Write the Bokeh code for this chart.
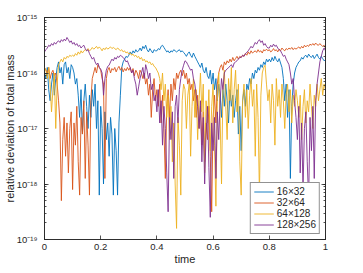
import numpy as np
from bokeh.plotting import figure
from bokeh.models import (LinearAxis, LogAxis, FixedTicker, LogTicker,
                          CustomJSTickFormatter, Legend)
from bokeh.embed import file_html
from bokeh.resources import INLINE

# ---------------- data (log10 of relative deviation) ----------------
TIME_STEP = 0.005
N_POINTS = 201

LOG_16x32 = [
    -16.0, -16.1, -15.9, -16.3, -16.5, -16.2, -16.0, -16.4, -16.1, -15.9, -15.8, -16.0, -15.9, -16.2, -15.85, -15.8, -16.0, -15.9, -16.1, -15.85,
    -15.9, -16.0, -16.2, -16.1, -16.4, -16.8, -16.3, -17.1, -16.5, -16.2, -16.6, -17.0, -16.4, -16.8, -16.3, -16.6, -16.2, -17.0, -16.5, -18.2,
    -16.6, -17.0, -18.0, -16.7, -17.2, -16.9, -17.5, -16.8, -17.1, -18.2, -17.0, -17.4, -18.2, -16.9, -16.4, -15.9, -15.8, -15.75, -15.7, -15.72,
    -15.68, -15.62, -15.66, -15.6, -15.64, -15.58, -15.62, -15.6, -15.55, -15.6, -15.52, -15.56, -15.5, -15.58, -15.62, -15.56, -15.6, -15.64, -15.58, -15.6,
    -15.6, -15.56, -15.58, -15.52, -15.5, -15.54, -15.58, -15.62, -15.6, -15.64, -15.6, -15.62, -15.58, -15.6, -15.62, -15.6, -15.58, -15.62, -15.6, -15.63,
    -15.66, -15.7, -15.65, -15.62, -15.68, -15.72, -15.64, -15.7, -15.75, -15.8, -15.85, -15.9, -15.82, -15.95, -16.0, -15.9, -16.05, -16.1, -15.95, -16.2,
    -16.0, -16.3, -16.1, -16.5, -16.2, -16.4, -16.8, -16.3, -16.6, -16.2, -16.5, -16.9, -16.3, -16.6, -16.4, -16.8, -16.5, -16.3, -17.1, -16.6,
    -17.4, -16.5, -16.3, -16.6, -16.2, -16.3, -16.1, -16.2, -16.0, -16.1, -15.95, -16.0, -15.9, -15.95, -15.85, -15.9, -15.8, -15.85, -15.75, -15.8,
    -15.75, -15.8, -15.72, -15.78, -15.7, -15.76, -15.8, -15.74, -15.82, -15.9, -16.1, -16.5, -16.2, -16.8, -16.3, -17.9, -16.6, -16.2, -16.0, -15.9,
    -15.85, -15.8, -15.78, -15.72, -15.75, -15.7, -15.68, -15.72, -15.66, -15.7, -15.72, -15.68, -15.74, -15.7, -15.66, -15.72, -15.75, -15.7, -15.74, -15.78, -15.76,
]

LOG_32x64 = [
    -15.9, -15.95, -16.0, -15.9, -16.1, -16.0, -15.95, -16.05, -16.0, -16.2, -16.5, -16.9, -18.3, -17.2, -16.8, -17.5, -16.9, -17.8, -17.0, -16.7,
    -18.1, -16.9, -17.3, -16.6, -17.6, -18.2, -16.8, -17.1, -16.5, -17.9, -16.7, -17.3, -18.2, -16.5, -16.1, -16.0, -15.9, -16.0, -15.85, -15.9,
    -15.95, -16.1, -16.2, -17.9, -16.1, -15.95, -15.9, -16.0, -15.92, -15.95, -15.9, -15.98, -15.92, -15.88, -15.95, -15.9, -15.98, -15.92, -15.96, -15.9,
    -15.95, -15.9, -16.0, -15.92, -16.05, -15.95, -16.0, -16.1, -15.95, -16.0, -16.1, -16.0, -16.2, -16.1, -16.4, -16.2, -16.8, -16.3, -16.1, -16.5,
    -16.3, -16.6, -16.2, -16.9, -16.4, -17.0, -17.9, -16.6, -16.3, -16.8, -16.2, -16.5, -16.1, -16.3, -16.0, -16.1, -16.0, -15.95, -16.05, -15.95,
    -16.1, -16.0, -16.2, -16.1, -16.3, -16.2, -16.5, -16.3, -16.8, -16.4, -17.0, -16.6, -17.3, -16.7, -17.6, -16.9, -17.2, -16.6, -17.5, -18.5,
    -16.8, -16.4, -16.9, -16.2, -16.0, -15.9, -15.85, -15.95, -15.8, -15.85, -15.78, -15.82, -15.75, -15.8, -15.72, -15.78, -15.74, -15.7, -15.75, -15.7,
    -15.72, -15.68, -15.7, -15.65, -15.68, -15.62, -15.66, -15.6, -15.64, -15.62, -15.6, -15.63, -15.58, -15.62, -15.6, -15.64, -15.58, -15.6, -15.57, -15.6,
    -15.58, -15.62, -15.6, -15.56, -15.6, -15.58, -15.62, -15.57, -15.6, -15.55, -15.58, -15.6, -15.56, -15.58, -15.55, -15.57, -15.54, -15.58, -15.55, -15.57,
    -15.55, -15.53, -15.56, -15.52, -15.55, -15.5, -15.53, -15.5, -15.52, -15.48, -15.5, -15.47, -15.5, -15.46, -15.49, -15.5, -15.47, -15.5, -15.52, -15.5, -15.55,
]

LOG_64x128 = [
    -15.9, -15.95, -16.1, -15.9, -16.2, -16.7, -16.3, -16.0, -17.0, -16.2, -15.85, -15.8, -15.75, -15.8, -15.72, -15.75, -15.7, -15.72, -15.68, -15.7,
    -15.68, -15.7, -15.65, -15.68, -15.62, -15.66, -15.6, -15.64, -15.6, -15.58, -15.6, -15.56, -15.6, -15.58, -15.54, -15.57, -15.55, -15.52, -15.56, -15.53,
    -15.56, -15.6, -15.55, -15.58, -15.54, -15.57, -15.55, -15.53, -15.56, -15.54, -15.56, -15.58, -15.55, -15.57, -15.6, -15.58, -15.62, -15.6, -15.64, -15.62,
    -15.66, -15.64, -15.68, -15.66, -15.7, -15.68, -15.72, -15.7, -15.75, -15.72, -15.78, -15.75, -15.8, -15.78, -15.82, -15.8, -15.85, -15.83, -15.88, -15.9,
    -15.95, -16.0, -16.1, -16.3, -16.0, -16.5, -16.2, -16.8, -16.4, -17.2, -16.6, -17.6, -16.9, -18.0, -18.8, -16.8, -17.3, -18.2, -16.5, -16.2,
    -16.3, -17.0, -16.4, -16.2, -17.5, -16.6, -16.1, -16.8, -16.3, -17.2, -16.5, -16.0, -16.7, -16.2, -17.8, -16.5, -16.9, -16.3, -17.4, -16.6,
    -16.2, -17.3, -18.4, -16.5, -16.0, -16.8, -18.0, -16.3, -15.95, -16.6, -17.2, -16.1, -16.5, -15.9, -16.9, -16.3, -15.95, -16.7, -16.2, -17.6,
    -18.2, -16.5, -16.2, -16.8, -16.3, -17.0, -16.4, -16.1, -16.6, -16.3, -17.5, -16.2, -16.8, -18.2, -16.4, -16.0, -15.9, -15.86, -16.2, -16.5,
    -16.3, -16.9, -16.2, -16.5, -17.3, -16.1, -16.6, -16.3, -16.8, -16.2, -16.5, -17.0, -16.4, -16.2, -16.7, -16.3, -16.9, -16.4, -16.6, -16.3,
    -16.5, -16.8, -16.4, -17.2, -16.6, -16.3, -16.9, -16.5, -16.7, -16.2, -16.6, -17.0, -16.4, -16.6, -16.2, -16.5, -16.3, -16.1, -16.4, -16.2, -16.3,
]

LOG_128x256 = [
    -15.62, -15.58, -15.55, -15.5, -15.52, -15.47, -15.5, -15.45, -15.48, -15.44, -15.42, -15.45, -15.4, -15.43, -15.39, -15.42, -15.36, -15.4, -15.45, -15.42,
    -15.48, -15.45, -15.5, -15.47, -15.52, -15.5, -15.55, -15.52, -15.5, -15.56, -15.6, -15.58, -15.65, -15.7, -15.75, -15.72, -15.8, -15.85, -15.82, -15.9,
    -15.93, -16.0, -16.4, -16.1, -15.95, -15.88, -15.86, -15.8, -15.75, -15.78, -15.72, -15.75, -15.7, -15.72, -15.68, -15.7, -15.72, -15.75, -15.8, -15.78,
    -15.85, -15.9, -16.0, -15.95, -16.1, -16.2, -16.4, -16.25, -16.1, -16.0, -15.9, -16.1, -15.85, -15.95, -16.1, -16.0, -16.3, -16.2, -16.5, -16.4,
    -16.7, -16.3, -16.9, -16.5, -17.3, -16.6, -17.0, -17.8, -18.5, -16.8, -17.2, -16.7, -17.9, -16.6, -16.4, -16.9, -16.3, -16.1, -15.95, -15.86,
    -15.78, -15.8, -15.85, -15.9, -15.95, -15.93, -16.1, -16.2, -16.4, -16.6, -17.0, -16.5, -17.6, -16.8, -18.0, -17.1, -16.6, -17.7, -18.6, -16.9,
    -17.4, -16.8, -17.9, -16.7, -17.2, -16.5, -16.1, -16.3, -16.0, -15.95, -15.93, -15.9, -15.88, -15.85, -15.9, -15.82, -15.8, -15.78, -15.75, -15.72,
    -15.72, -15.68, -15.7, -15.65, -15.63, -15.6, -15.56, -15.52, -15.55, -15.5, -15.45, -15.48, -15.43, -15.4, -15.45, -15.42, -15.5, -15.47, -15.52, -15.55,
    -15.55, -15.5, -15.53, -15.48, -15.52, -15.5, -15.55, -15.58, -15.6, -15.65, -15.7, -15.68, -15.75, -15.8, -15.85, -16.0, -16.2, -16.1, -16.5, -16.8,
    -17.2, -16.6, -17.8, -16.9, -18.1, -17.0, -16.7, -17.6, -18.3, -16.8, -17.4, -16.6, -17.9, -16.5, -16.2, -16.0, -15.8, -15.7, -15.6, -15.55, -15.6,
]

SERIES_NAMES = ["16×32", "32×64", "64×128", "128×256"]
SERIES_COLORS = ["#0072BD", "#D95319", "#EDB120", "#7E2F8E"]

X_TICKS = [0, 0.2, 0.4, 0.6, 0.8, 1]
X_TICK_LABELS = ["0", "0.2", "0.4", "0.6", "0.8", "1"]
Y_TICK_EXPONENTS = [-19, -18, -17, -16, -15]
Y_TICK_LABELS = ["10⁻¹⁹", "10⁻¹⁸", "10⁻¹⁷", "10⁻¹⁶", "10⁻¹⁵"]

X_LABEL = "time"
Y_LABEL = "relative deviation of total mass"

# ---------------- figure ----------------
FONT = "Liberation Sans"
AX = "#262626"

time = np.arange(N_POINTS) * TIME_STEP

p = figure(frame_width=281, frame_height=222, x_range=(0, 1), y_range=(1e-19, 1e-15),
           y_axis_type="log", output_backend="svg", toolbar_location=None,
           min_border_left=43, min_border_right=8, min_border_top=17,
           min_border_bottom=0, background_fill_color="white")
p.grid.visible = False
p.outline_line_color = AX
p.outline_line_width = 0.8

xfmt = CustomJSTickFormatter(args=dict(xvals=X_TICKS, xlabs=X_TICK_LABELS), code="""
const i = xvals.findIndex(v => Math.abs(v - tick) < 1e-9);
return i >= 0 ? xlabs[i] : '';
""")
yfmt = CustomJSTickFormatter(args=dict(yexps=Y_TICK_EXPONENTS, ylabs=Y_TICK_LABELS), code="""
const e = Math.log10(tick);
const i = yexps.findIndex(v => Math.abs(v - e) < 1e-6);
return i >= 0 ? ylabs[i] : '';
""")
blank = CustomJSTickFormatter(code="return '';")

def style(ax):
    ax.axis_line_color = AX
    ax.axis_line_width = 0.8
    ax.major_tick_line_color = AX
    ax.minor_tick_line_color = AX
    ax.major_tick_line_width = 0.8
    ax.minor_tick_line_width = 0.8
    ax.major_tick_in = 4
    ax.major_tick_out = 0
    ax.minor_tick_in = 2
    ax.minor_tick_out = 0
    ax.major_label_text_font = FONT
    ax.major_label_text_font_size = "9.5px"
    ax.major_label_text_color = AX
    ax.major_label_standoff = 4
    ax.axis_label_text_font = FONT
    ax.axis_label_text_font_size = "11px"
    ax.axis_label_text_font_style = "normal"
    ax.axis_label_text_color = AX
    ax.axis_label_standoff = 0

p.xaxis.ticker = FixedTicker(ticks=X_TICKS, minor_ticks=[])
p.xaxis.formatter = xfmt
p.xaxis.axis_label = X_LABEL
style(p.xaxis[0])

p.yaxis.ticker = LogTicker(num_minor_ticks=10)
p.yaxis.formatter = yfmt
p.yaxis.axis_label = Y_LABEL
style(p.yaxis[0])
p.yaxis.major_label_standoff = 7
p.yaxis.axis_label_standoff = -2

top = LinearAxis(ticker=FixedTicker(ticks=X_TICKS, minor_ticks=[]), formatter=blank)
style(top)
top.major_label_text_font_size = "0px"
top.major_label_standoff = 0
p.add_layout(top, "above")

right = LogAxis(ticker=LogTicker(num_minor_ticks=10), formatter=blank)
style(right)
right.major_label_text_font_size = "0px"
right.major_label_standoff = 0
p.add_layout(right, "right")

series = [LOG_16x32, LOG_32x64, LOG_64x128, LOG_128x256]
items = []
for name, color, logs in zip(SERIES_NAMES, SERIES_COLORS, series):
    vals = 10.0 ** np.array(logs)
    r = p.line(time, vals, line_color=color, line_width=0.9)
    items.append((name, [r]))

legend = Legend(items=items, location="bottom_right")
legend.margin = 5
legend.padding = 3
legend.spacing = 0
legend.label_text_font = FONT
legend.label_text_font_size = "10px"
legend.label_text_color = AX
legend.label_height = 11
legend.glyph_height = 11
legend.glyph_width = 20
legend.label_standoff = 3
legend.border_line_color = AX
legend.border_line_width = 0.8
legend.background_fill_color = "white"
legend.background_fill_alpha = 1
p.add_layout(legend, "center")

with open("out.html", "w", encoding="utf-8") as f:
    f.write(file_html(p, INLINE))
